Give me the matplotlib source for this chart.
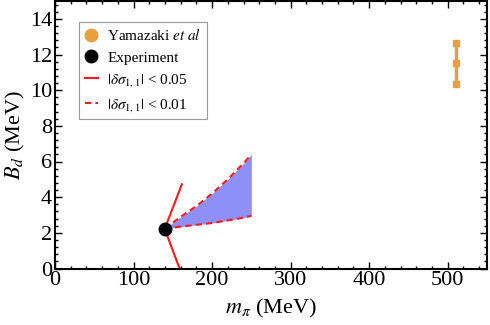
import matplotlib
matplotlib.use("Agg")
import matplotlib.pyplot as plt
from matplotlib.ticker import MultipleLocator
from matplotlib.lines import Line2D

plt.rcParams['font.family'] = ['Liberation Serif', 'DejaVu Serif']
plt.rcParams['mathtext.fontset'] = 'stix'

# Data
mpi_exp = 139.6
bd_exp = 2.22
mpi_yam = 510
bd_yam = 11.5
bd_yam_err = 1.15

mpi_band = [139.6, 160, 180, 200, 220, 240, 250]
band_upper = [2.22, 2.9, 3.5, 4.2, 5.0, 5.9, 6.4]
band_lower = [2.22, 2.35, 2.45, 2.55, 2.7, 2.85, 2.95]

line_up_x = [139.6, 161.5]
line_up_y = [2.22, 4.72]
line_dn_x = [139.6, 158.6]
line_dn_y = [2.22, 0.0]

orange = '#E8A03C'
red = '#FF1A1A'
blue = '#8F8FF8'

fig = plt.figure(figsize=(4.9, 3.25), dpi=100)
ax = fig.add_axes([55/490, (325-268.5)/325, (487-55)/490, (268.5-1)/325])

ax.fill_between(mpi_band, band_lower, band_upper, color=blue, lw=0, zorder=1)
ax.plot(mpi_band, band_upper, color=red, ls=(0, (3, 2)), lw=1.5, zorder=2)
ax.plot(mpi_band, band_lower, color=red, ls=(0, (3, 2)), lw=1.5, zorder=2)
ax.plot(line_up_x, line_up_y, color=red, lw=1.5, zorder=2)
ax.plot(line_dn_x, line_dn_y, color=red, lw=1.5, zorder=2, clip_on=True)
ax.plot([mpi_exp], [bd_exp], 'o', color='black', ms=9, zorder=3)

ax.plot([mpi_yam, mpi_yam], [bd_yam - bd_yam_err, bd_yam + bd_yam_err], color=orange, lw=2.5, zorder=3)
ax.plot([mpi_yam]*3, [bd_yam - bd_yam_err, bd_yam, bd_yam + bd_yam_err], 's', color=orange, ms=5, zorder=3)

ax.set_xlim(0, 550)
ax.set_ylim(0, 15)
ax.xaxis.set_major_locator(MultipleLocator(100))
ax.xaxis.set_minor_locator(MultipleLocator(20))
ax.yaxis.set_major_locator(MultipleLocator(2))
ax.yaxis.set_minor_locator(MultipleLocator(0.4))
ax.tick_params(which='both', direction='in', top=True, right=True, labelsize=16, width=1.0, pad=2)
ax.tick_params(which='major', length=5)
ax.tick_params(which='minor', length=2.5)
for s in ax.spines.values():
    s.set_linewidth(1.5)

ax.set_xlabel(r'$m_\pi$ (MeV)', fontsize=16, labelpad=5)
ax.set_ylabel(r'$B_d$ (MeV)', fontsize=16, labelpad=2)

handles = [
    Line2D([], [], marker='o', color=orange, ls='none', ms=9),
    Line2D([], [], marker='o', color='black', ls='none', ms=9),
    Line2D([], [], color=red, lw=1.5),
    Line2D([], [], color=red, lw=1.5, ls=(0, (3, 2))),
]
labels = [r'Yamazaki $et\ al$', 'Experiment',
          r'$|\delta\sigma_{1,1}|$ < 0.05', r'$|\delta\sigma_{1,1}|$ < 0.01']
leg = ax.legend(handles, labels, loc='upper left', bbox_to_anchor=(0.056, 0.922),
                borderaxespad=0, fontsize=11, fancybox=False, framealpha=1,
                edgecolor='#999999', handlelength=0.9, handletextpad=0.6,
                labelspacing=0.5, borderpad=0.35)
leg.get_frame().set_linewidth(0.8)

fig.savefig('out.png', dpi=100)
